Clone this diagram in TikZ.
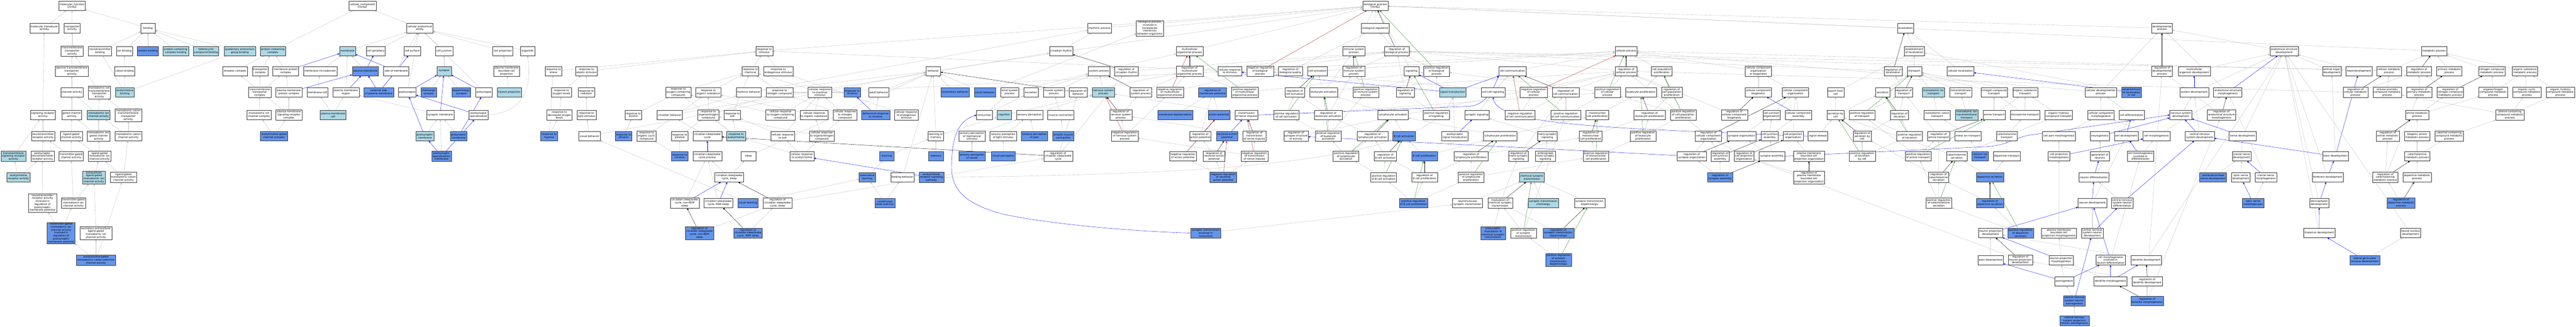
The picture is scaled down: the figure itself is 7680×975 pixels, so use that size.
\documentclass[tikz,border=0pt]{standalone}
\usepackage{fontspec}
\setmainfont{DejaVu Sans}
\usetikzlibrary{arrows.meta,shadows}
\definecolor{lbfill}{HTML}{ADD8E6}
\definecolor{dbfill}{HTML}{6495ED}
\definecolor{edgegray}{RGB}{190,190,190}
\definecolor{edgered}{HTML}{B22222}
\definecolor{edgegreen}{HTML}{228B22}
\pgfdeclarelayer{back}
\pgfdeclarelayer{bg}
\pgfsetlayers{back,bg,main}
\newcommand{\nd}[7]{\node[#6,minimum width=#4pt,minimum height=#5pt] (#1) at (#2,#3) {#7};}
\tikzset{
  box/.style={draw=black!80, line width=0.6pt, inner xsep=1pt, inner ysep=1pt, align=center,
    font={\fontsize{7.6}{8.8}\selectfont},
    drop shadow={shadow xshift=0.9pt,shadow yshift=-0.9pt,fill=black!55,opacity=0.6}},
  wn/.style={box, fill=white},
  lbn/.style={box, fill=lbfill},
  dbn/.style={box, fill=dbfill},
  tipA/.style={-{Triangle[length=5.5pt,width=4.6pt]}},
  ge/.style={draw=edgegray, line width=0.6pt, tipA},
  be/.style={draw=blue, line width=0.6pt, tipA},
  ke/.style={draw=black, line width=0.6pt, tipA},
  re/.style={draw=edgered, line width=0.6pt, tipA},
  gre/.style={draw=edgegreen, line width=0.6pt, tipA}
}
\begin{document}
\begin{tikzpicture}[x=1pt,y=-1pt]
\useasboundingbox (0,0) rectangle (7680,975);
\begin{pgfonlayer}{back}
\fill[white] (0,0) rectangle (7680,975);
\end{pgfonlayer}
% ---------------- molecular function ----------------
\nd{mf}{214.7}{17}{78}{28}{wn}{molecular\_function\\Chrnb2}
\nd{mta}{132}{84}{86}{28}{wn}{molecular transducer\\activity}
\nd{ta}{215}{84}{47}{28}{wn}{transporter\\activity}
\nd{binding}{441}{84}{43}{28}{wn}{binding}
\nd{tta}{215}{152}{66}{30}{wn}{transmembrane\\transporter\\activity}
\nd{ntb}{298}{152}{69}{28}{wn}{neurotransmitter\\binding}
\nd{ionb}{371}{152}{47}{28}{wn}{ion binding}
\nd{protb}{441}{152}{63}{28}{dbn}{protein binding}
\nd{pcb}{524}{152}{75.5}{28}{lbn}{protein-containing\\complex binding}
\nd{hcb}{614.5}{152}{75}{28}{lbn}{heterocyclic\\compound binding}
\nd{qab}{715}{152}{94}{28}{lbn}{quaternary ammonium\\group binding}
\nd{ptta}{214}{212}{98}{30}{wn}{passive transmembrane\\transporter\\activity}
\nd{cationb}{371.5}{212}{60}{28}{wn}{cation binding}
\nd{chact}{214}{275.5}{66}{28}{wn}{channel activity}
\nd{mitta}{296}{276}{67}{38.6}{wn}{monoatomic ion\\transmembrane\\transporter\\activity}
\nd{achb}{372}{275.5}{56}{28}{lbn}{acetylcholine\\binding}
\nd{sra}{128}{343}{74}{28}{wn}{signaling receptor\\activity}
\nd{gca}{214}{343}{59}{28}{wn}{gated channel\\activity}
\nd{mica}{294}{343}{68}{28}{lbn}{monoatomic ion\\channel activity}
\nd{mcta}{382.5}{343}{79}{38.6}{wn}{monoatomic cation\\transmembrane\\transporter\\activity}
\nd{ntra}{128}{406}{69}{28}{wn}{neurotransmitter\\receptor activity}
\nd{lgca}{212.6}{406}{66}{28}{wn}{ligand-gated\\channel activity}
\nd{migca}{294}{406}{68}{30}{wn}{monoatomic ion\\gated channel\\activity}
\nd{mcca}{382.5}{406}{79}{28}{wn}{monoatomic cation\\channel activity}
\nd{tsra}{40}{466}{73.5}{30}{lbn}{transmembrane\\signaling receptor\\activity}
\nd{pntra}{126.5}{466}{69}{30}{wn}{postsynaptic\\neurotransmitter\\receptor activity}
\nd{tgca}{212}{466}{72}{28}{wn}{transmitter-gated\\channel activity}
\nd{lgmica}{296.5}{466}{67}{30}{wn}{ligand-gated\\monoatomic ion\\channel activity}
\nd{achra}{55}{529}{68}{28}{lbn}{acetylcholine\\receptor activity}
\nd{elgmica}{280}{529}{67.5}{38.6}{lbn}{extracellular\\ligand-gated\\monoatomic ion\\channel activity}
\nd{lgmcca}{368}{529}{79}{30}{wn}{ligand-gated\\monoatomic cation\\channel activity}
\nd{ntrareg}{126.7}{605.4}{83.7}{55}{wn}{neurotransmitter\\receptor activity\\involved in\\regulation of\\postsynaptic\\membrane potential}
\nd{tgmica}{219}{605.4}{72}{30}{wn}{transmitter-gated\\monoatomic ion\\channel activity}
\nd{tgmicareg}{182}{695}{83}{63.4}{dbn}{transmitter-gated\\monoatomic ion\\channel activity\\involved in\\regulation of\\postsynaptic\\membrane potential}
\nd{eelgmica}{286}{695}{95.5}{38.6}{wn}{excitatory extracellular\\ligand-gated\\monoatomic ion\\channel activity}
\nd{achgated}{286}{776}{117.5}{30}{dbn}{acetylcholine-gated\\monoatomic cation-selective\\channel activity}
% ---------------- cellular component ----------------
\nd{cc}{1080.4}{17}{80.8}{28}{wn}{cellular\_component\\Chrnb2}
\nd{cae}{1251.6}{84}{79}{28}{wn}{cellular anatomical\\entity}
\nd{pcc}{813.5}{152}{75}{28}{lbn}{protein-containing\\complex}
\nd{membrane}{1036}{152}{47}{28}{lbn}{membrane}
\nd{cellper}{1120.4}{152}{56}{28}{wn}{cell periphery}
\nd{cellsurf}{1228.8}{152}{48.6}{28}{wn}{cell surface}
\nd{celljunc}{1324}{152}{51.4}{28}{wn}{cell junction}
\nd{cellproj}{1499}{152}{60}{28}{wn}{cell projection}
\nd{organelle}{1572.7}{152}{43.3}{28}{wn}{organelle}
\nd{recc}{700.8}{212}{72.6}{28}{wn}{receptor complex}
\nd{transc}{775.7}{212}{47}{28}{wn}{transporter\\complex}
\nd{mpc}{851.7}{212}{76.3}{28}{wn}{membrane protein\\complex}
\nd{mmd}{954.3}{212}{99.6}{28}{wn}{membrane microdomain}
\nd{pm}{1089.2}{212}{78}{28}{dbn}{plasma membrane}
\nd{som}{1180.9}{212}{76}{28}{wn}{side of membrane}
\nd{synapse}{1324}{212}{43.3}{28}{lbn}{synapse}
\nd{pmbcp}{1510.2}{212}{77.6}{30}{wn}{plasma membrane\\bounded cell\\projection}
\nd{tmtc}{774.5}{275.5}{66.5}{30}{wn}{transmembrane\\transporter\\complex}
\nd{pmpc}{861.2}{275.5}{77.6}{28}{wn}{plasma membrane\\protein complex}
\nd{mraft}{946.5}{275.5}{62}{28}{wn}{membrane raft}
\nd{pmr}{1031.2}{275.5}{78}{28}{wn}{plasma membrane\\region}
\nd{esopm}{1129.2}{275.5}{87.8}{28}{dbn}{external side\\of plasma membrane}
\nd{postsyn}{1213.9}{275.5}{53}{28}{wn}{postsynapse}
\nd{cholsyn}{1278}{275.5}{46}{28}{dbn}{cholinergic\\synapse}
\nd{dopsyn}{1375.3}{275.5}{56}{28}{dbn}{dopaminergic\\synapse}
\nd{presyn}{1442.9}{275.5}{49}{28}{wn}{presynapse}
\nd{neuproj}{1518.3}{275.5}{72.7}{28}{lbn}{neuron projection}
\nd{micc}{772.2}{343}{71}{28}{wn}{monoatomic ion\\channel complex}
\nd{pmsrc}{861.2}{343}{77.6}{30}{wn}{plasma membrane\\signaling receptor\\complex}
\nd{pmraft}{992.9}{343}{77}{28}{lbn}{plasma membrane\\raft}
\nd{synmem}{1312.5}{343}{82}{28}{wn}{synaptic membrane}
\nd{pssp}{1426.8}{343}{57.5}{28}{wn}{postsynaptic\\specialization}
\nd{achgcc}{817}{406}{81}{28}{dbn}{acetylcholine-gated\\channel complex}
\nd{psm}{1266.5}{406}{54}{28}{lbn}{postsynaptic\\membrane}
\nd{presynmem}{1367.3}{406}{49.8}{28}{dbn}{presynaptic\\membrane}
\nd{psspm}{1316.3}{466}{58}{30}{dbn}{postsynaptic\\specialization\\membrane}
% ---------------- biological process ----------------
\nd{rts}{1649.8}{212}{49.8}{28}{wn}{response to\\stress}
\nd{rtas}{1748.4}{212}{65.7}{28}{wn}{response to\\abiotic stimulus}
\nd{rtol}{1673.9}{275.5}{58.8}{28}{wn}{response to\\oxygen levels}
\nd{rtrad}{1748.3}{275.5}{49.4}{28}{wn}{response to\\radiation}
\nd{rtdol}{1667.6}{343}{75.5}{30}{wn}{response to\\decreased oxygen\\levels}
\nd{rtls}{1748.6}{343}{56.3}{28}{wn}{response to\\light stimulus}
\nd{rtalc}{1888}{343}{50}{28}{wn}{response to\\alcohol}
\nd{rthyp}{1637}{406}{49.4}{28}{dbn}{response to\\hypoxia}
\nd{visbeh}{1757.4}{406}{64}{28}{wn}{visual behavior}
\nd{rteth}{1859}{406}{49.8}{28}{dbn}{response to\\ethanol}
\nd{rtocc}{1927.4}{406}{56.3}{30}{wn}{response to\\organic cyclic\\compound}
\nd{rtstim}{2278.6}{152}{50.2}{28}{wn}{response to\\stimulus}
\nd{rtchem}{2237}{212}{49.4}{28}{wn}{response to\\chemical}
\nd{rtendo}{2320.2}{212}{87.8}{28}{wn}{response to\\endogenous stimulus}
\nd{rtocomp}{2021.8}{275.5}{75.5}{30}{wn}{response to\\oxygen-containing\\compound}
\nd{rtos}{2111.6}{275.5}{74.7}{28}{wn}{response to\\organic substance}
\nd{rhythbeh}{2231.8}{275.5}{74.3}{28}{wn}{rhythmic behavior}
\nd{rtnc}{2324}{275.5}{79.2}{28}{wn}{response to\\nitrogen compound}
\nd{crcs}{2444.5}{275.5}{70.2}{30}{wn}{cellular response\\to chemical\\stimulus}
\nd{rtnic}{2540.2}{275.5}{49.4}{28}{dbn}{response to\\nicotine}
\nd{circbeh}{1996.4}{343}{76}{28}{wn}{circadian behavior}
\nd{rtonc}{2111.8}{343}{62.9}{30}{wn}{response to\\organonitrogen\\compound}
\nd{rtsalt}{2183.3}{343}{49.8}{28}{wn}{response to\\salt}
\nd{crocc}{2326.8}{343}{87}{30}{wn}{cellular response\\to oxygen-containing\\compound}
\nd{cros}{2427}{343}{84}{28}{wn}{cellular response\\to organic substance}
\nd{crnc}{2519.3}{343}{70.6}{30}{wn}{cellular response\\to nitrogen\\compound}
\nd{rtalk}{2026.3}{406}{49.4}{28}{wn}{response to\\alkaloid}
\nd{csw}{2108.6}{406}{85.7}{28}{wn}{circadian sleep/wake\\cycle}
\nd{rtach}{2194.5}{406}{56}{28}{lbn}{response to\\acetylcholine}
\nd{crsalt}{2333.3}{406}{69.8}{28}{wn}{cellular response\\to salt}
\nd{cronc}{2450.2}{406}{73.5}{30}{wn}{cellular response\\to organonitrogen\\compound}
\nd{rtcoc}{2026}{466}{49}{28}{dbn}{response to\\cocaine}
\nd{cswp}{2108.6}{466}{85.7}{28}{wn}{circadian sleep/wake\\cycle process}
\nd{sleep}{2231.2}{466}{43.7}{28}{wn}{sleep}
\nd{crach}{2391}{466}{71}{28}{wn}{cellular response\\to acetylcholine}
\nd{cswsl}{2174}{529}{86}{28}{wn}{circadian sleep/wake\\cycle, sleep}
\nd{cswnrem}{2041.2}{605.4}{85.7}{30}{wn}{circadian sleep/wake\\cycle, non-REM\\sleep}
\nd{cswrem}{2141.6}{605.4}{85.7}{28}{wn}{circadian sleep/wake\\cycle, REM sleep}
\nd{vislearn}{2229.8}{605.4}{61.2}{28}{dbn}{visual learning}
\nd{rcswsl}{2318}{605.4}{85}{30}{wn}{regulation of\\circadian sleep/wake\\cycle, sleep}
\nd{rcswnrem}{2085.3}{695}{85.7}{38.6}{dbn}{regulation of\\circadian sleep/wake\\cycle, non-REM\\sleep}
\nd{rcswrem}{2229.8}{695}{85}{30}{dbn}{regulation of\\circadian sleep/wake\\cycle, REM sleep}
\nd{behavior}{2782.2}{212}{43.7}{28}{wn}{behavior}
\nd{circrhythm}{3163.3}{152}{69.4}{28}{wn}{circadian rhythm}
\nd{adultbeh}{2620.2}{275.5}{60}{28}{wn}{adult behavior}
\nd{locobeh}{2847.3}{275.5}{85}{28}{dbn}{locomotory behavior}
\nd{socbeh}{2936.3}{275.5}{62.9}{28}{dbn}{social behavior}
\nd{renal}{3010}{275.5}{55}{28}{wn}{renal system\\process}
\nd{excretion}{3073.4}{275.5}{43.3}{28}{wn}{excretion}
\nd{musproc}{3141.6}{275.5}{62.9}{28}{wn}{muscle system\\process}
\nd{regbeh}{3214.3}{275.5}{53}{28}{wn}{regulation of\\behavior}
\nd{brtnic}{2610.6}{343}{83.3}{28}{dbn}{behavioral response\\to nicotine}
\nd{cres}{2702}{343}{71}{30}{wn}{cellular response\\to endogenous\\stimulus}
\nd{micturition}{2934.9}{343}{47}{28}{wn}{micturition}
\nd{cognition}{2993.9}{343}{43.3}{28}{lbn}{cognition}
\nd{sensperc}{3069.4}{343}{78.4}{28}{wn}{sensory perception}
\nd{muscontr}{3162.4}{343}{79}{28}{wn}{muscle contraction}
\nd{lom}{2790.2}{406}{45.7}{28}{wn}{learning or\\memory}
\nd{spms}{2897.8}{406}{78.7}{30}{wn}{sensory perception\\of mechanical\\stimulus}
\nd{spls}{2990.8}{406}{78.8}{28}{wn}{sensory perception\\of light stimulus}
\nd{sppain}{3084}{406}{79}{28}{dbn}{sensory perception\\of pain}
\nd{smc}{3169.8}{406}{64.4}{28}{dbn}{smooth muscle\\contraction}
\nd{learning}{2643.7}{466}{43.3}{28}{dbn}{learning}
\nd{memory}{2790.4}{466}{43.7}{28}{dbn}{memory}
\nd{spsound}{2897.8}{466}{78.7}{28}{dbn}{sensory perception\\of sound}
\nd{visperc}{2991}{466}{71}{28}{dbn}{visual perception}
\nd{rcsw}{3154.5}{466}{86}{30}{wn}{regulation of\\circadian sleep/wake\\cycle}
\nd{assoclearn}{2585.5}{529}{48.6}{28}{dbn}{associative\\learning}
\nd{feedbeh}{2690.2}{529}{69.4}{28}{wn}{feeding behavior}
\nd{achrsp}{2776.8}{529}{73.5}{30}{dbn}{acetylcholine\\receptor signaling\\pathway}
\nd{cta}{2638.2}{605.4}{59.2}{28}{dbn}{conditioned\\taste aversion}
\nd{rhythproc}{3278}{84}{71}{28}{wn}{rhythmic process}
\nd{bpiiibo}{3428}{84.3}{81.2}{46.6}{wn}{biological process\\involved in\\intraspecies\\interaction\\between organisms}
\nd{mop}{3546.5}{152}{80}{28}{wn}{multicellular\\organismal process}
\nd{sysproc}{3276.3}{212}{64.5}{28}{wn}{system process}
\nd{rcr}{3358}{212}{69.4}{28}{wn}{regulation of\\circadian rhythm}
\nd{rmop}{3546.5}{212}{80}{30}{wn}{regulation of\\multicellular\\organismal process}
\nd{crtstim}{3666.5}{212}{70.2}{28}{wn}{cellular response\\to stimulus}
\nd{nrbp}{3756.7}{212}{80}{30}{wn}{negative regulation\\of biological\\process}
\nd{rbq}{3847}{212}{71.5}{28}{wn}{regulation of\\biological quality}
\nd{nsp}{3289.4}{275.5}{66}{28}{lbn}{nervous system\\process}
\nd{rsp}{3400.8}{275.5}{64.5}{28}{wn}{regulation of\\system process}
\nd{nrmop}{3488.2}{275.5}{80}{30}{wn}{negative regulation\\of multicellular\\organismal process}
\nd{rmp}{3614.9}{275.5}{82.8}{28}{dbn}{regulation of\\membrane potential}
\nd{prmop}{3711}{275.5}{80}{30}{wn}{positive regulation\\of multicellular\\organismal process}
\nd{rca}{3860.2}{275.5}{59.2}{28}{wn}{regulation of\\cell activation}
\nd{rnsp}{3341.5}{343}{65.7}{30}{wn}{regulation of\\nervous system\\process}
\nd{mdepol}{3503.5}{343}{104}{28}{dbn}{membrane depolarization}
\nd{actpot}{3634}{343}{64}{28}{dbn}{action potential}
\nd{tni}{3716}{343}{68.6}{28}{wn}{transmission\\of nerve impulse}
\nd{prca}{3834.7}{343}{76}{28}{wn}{positive regulation\\of cell activation}
\nd{nrnsp}{3353.3}{406}{79.6}{30}{wn}{negative regulation\\of nervous system\\process}
\nd{rap}{3578.5}{406}{64}{28}{wn}{regulation of\\action potential}
\nd{nap}{3658.2}{406}{63.3}{28}{dbn}{neuronal action\\potential}
\nd{rtni}{3739.8}{406}{69}{30}{wn}{regulation of\\transmission\\of nerve impulse}
\nd{rssa}{3863.7}{406}{72.7}{30}{wn}{regulation of\\synapse structure\\or activity}
\nd{nrap}{3526.7}{466}{79.6}{28}{wn}{negative regulation\\of action potential}
\nd{rnap}{3619.6}{466}{64.5}{30}{wn}{regulation of\\neuronal action\\potential}
\nd{nrtni}{3740}{466}{80}{30}{wn}{negative regulation\\of transmission\\of nerve impulse}
\nd{nrnap}{3647.1}{529}{80.4}{30}{dbn}{negative regulation\\of neuronal\\action potential}
\nd{stim}{3594.7}{695}{89.8}{30}{dbn}{synaptic transmission\\involved in\\micturition}
\nd{bp}{4100.2}{17}{75.5}{28}{wn}{biological\_process\\Chrnb2}
\nd{bioreg}{4100.4}{84}{83.3}{28}{wn}{biological regulation}
\nd{isp}{4035.9}{152}{67}{28}{wn}{immune system\\process}
\nd{rbp}{4164.2}{152}{73.9}{28}{wn}{regulation of\\biological process}
\nd{cellact}{3928}{212}{59.2}{28}{wn}{cell activation}
\nd{risp}{4036}{212}{67}{30}{wn}{regulation of\\immune system\\process}
\nd{signaling}{4208.3}{212}{43.7}{28}{wn}{signaling}
\nd{prbp}{4283}{212}{77.1}{30}{wn}{positive regulation\\of biological\\process}
\nd{cellcomm}{4509}{212}{82.4}{28}{wn}{cell communication}
\nd{leukact}{3946}{275.5}{83.3}{28}{wn}{leukocyte activation}
\nd{prisp}{4071.8}{275.5}{76.7}{30}{wn}{positive regulation\\of immune system\\process}
\nd{rsig}{4189.2}{275.5}{53.5}{28}{wn}{regulation of\\signaling}
\nd{sigtrans}{4331}{275.5}{78.4}{28}{lbn}{signal transduction}
\nd{ccsig}{4451.4}{275.5}{71.8}{28}{wn}{cell-cell signaling}
\nd{rleuka}{3959.8}{343}{83.7}{28}{wn}{regulation of\\leukocyte activation}
\nd{lymact}{4153.3}{343}{91}{28}{wn}{lymphocyte activation}
\nd{prsig}{4282}{343}{77.6}{28}{wn}{positive regulation\\of signaling}
\nd{synsig}{4403.3}{343}{73.5}{28}{wn}{synaptic signaling}
\nd{prleuka}{3960}{406}{76.7}{30}{wn}{positive regulation\\of leukocyte\\activation}
\nd{rlyma}{4092.2}{406}{91.4}{28}{wn}{regulation of\\lymphocyte activation}
\nd{bcellact}{4186}{406}{66.5}{28}{dbn}{B cell activation}
\nd{pst}{4337.6}{406}{78.4}{28}{wn}{postsynaptic\\signal transduction}
\nd{lymprolif}{4472.5}{406}{99}{28}{wn}{lymphocyte proliferation}
\nd{prlyma}{4012.7}{466}{76.7}{30}{wn}{positive regulation\\of lymphocyte\\activation}
\nd{rbca}{4130}{466}{66.5}{28}{wn}{regulation of\\B cell activation}
\nd{bcprolif}{4247}{466}{76}{28}{dbn}{B cell proliferation}
\nd{rlp}{4385.5}{466}{100}{28}{wn}{regulation of\\lymphocyte proliferation}
\nd{prbca}{4125}{529}{77}{28}{wn}{positive regulation\\of B cell activation}
\nd{rbcp}{4247}{529}{76}{28}{wn}{regulation of\\B cell proliferation}
\nd{prlp}{4385.7}{529}{76.7}{30}{wn}{positive regulation\\of lymphocyte\\proliferation}
\nd{prbcp}{4213.9}{605.4}{85}{28}{dbn}{positive regulation\\of B cell proliferation}
\nd{nmst}{4375}{605.4}{89.8}{28}{wn}{neuromuscular\\synaptic transmission}
\nd{mcst}{4472.5}{605.4}{74}{30}{wn}{modulation of\\chemical synaptic\\transmission}
\nd{pmcst}{4451.2}{695}{74}{38.6}{dbn}{presynaptic\\modulation of\\chemical synaptic\\transmission}
\nd{cellproc}{4847.7}{152}{64.5}{28}{wn}{cellular process}
\nd{rcp}{4847.7}{212}{64.5}{28}{wn}{regulation of\\cellular process}
\nd{cpp}{4954.3}{212}{61.2}{28}{wn}{cell population\\proliferation}
\nd{nrcp}{4572.4}{275.5}{80.4}{30}{wn}{negative regulation\\of cellular\\process}
\nd{rcc}{4667.8}{275.5}{80}{28}{wn}{regulation of\\cell communication}
\nd{prcp}{4792.2}{275.5}{76.7}{30}{wn}{positive regulation\\of cellular\\process}
\nd{leukprolif}{4892}{275.5}{92.7}{28}{wn}{leukocyte proliferation}
\nd{rcpp}{4984}{275.5}{61.2}{30}{wn}{regulation of\\cell population\\proliferation}
\nd{nrcc}{4531.8}{343}{89.8}{28}{wn}{negative regulation\\of cell communication}
\nd{prcc}{4667.8}{343}{89.8}{28}{wn}{positive regulation\\of cell communication}
\nd{mncp}{4762.2}{343}{68.2}{28}{wn}{mononuclear\\cell proliferation}
\nd{rleukp}{4918}{343}{93}{28}{wn}{regulation of\\leukocyte proliferation}
\nd{prcpp}{5017.8}{343}{77.1}{30}{wn}{positive regulation\\of cell population\\proliferation}
\nd{tss}{4613}{406}{58.8}{28}{wn}{trans-synaptic\\signaling}
\nd{rmncp}{4742.4}{406}{67.8}{30}{wn}{regulation of\\mononuclear\\cell proliferation}
\nd{prleukp}{4898.2}{406}{77.1}{30}{wn}{positive regulation\\of leukocyte\\proliferation}
\nd{rcco}{5093.3}{406}{78}{30}{wn}{regulation of\\cellular component\\organization}
\nd{rtss}{4527}{466}{58.8}{30}{wn}{regulation of\\trans-synaptic\\signaling}
\nd{atss}{4607.3}{466}{58.8}{30}{wn}{anterograde\\trans-synaptic\\signaling}
\nd{prmncp}{4758}{466}{76.7}{30}{wn}{positive regulation\\of mononuclear\\cell proliferation}
\nd{rso}{5043.7}{466}{87.3}{28}{wn}{regulation of\\synapse organization}
\nd{rcja}{5128.2}{466}{54}{30}{wn}{regulation of\\cell junction\\assembly}
\nd{cst}{4567}{529}{74.3}{28}{lbn}{chemical synaptic\\transmission}
\nd{rsa}{5128.3}{529}{76.3}{28}{dbn}{regulation of\\synapse assembly}
\nd{stchol}{4601.4}{605.4}{91.8}{28}{lbn}{synaptic transmission,\\cholinergic}
\nd{stdop}{4739.4}{605.4}{91.8}{28}{wn}{synaptic transmission,\\dopaminergic}
\nd{prst}{4542}{695}{76.7}{30}{wn}{positive regulation\\of synaptic\\transmission}
\nd{rstdop}{4646.3}{695}{91.8}{30}{dbn}{regulation of\\synaptic transmission,\\dopaminergic}
\nd{prstdop}{4646.5}{775.5}{77.5}{38.6}{dbn}{positive regulation\\of synaptic\\transmission,\\dopaminergic}
\nd{loc}{5681}{84}{48.6}{28}{wn}{localization}
\nd{eol}{5707.3}{152}{58.8}{28}{wn}{establishment\\of localization}
\nd{ccob}{5242}{212}{78.4}{30}{wn}{cellular component\\organization\\or biogenesis}
\nd{rloc}{5644.1}{212}{53}{28}{wn}{regulation of\\localization}
\nd{transport}{5707.6}{212}{43.7}{28}{wn}{transport}
\nd{ccbio}{5242}{275.5}{78.4}{28}{wn}{cellular component\\biogenesis}
\nd{cco}{5352.9}{275.5}{78}{28}{wn}{cellular component\\organization}
\nd{efc}{5472.4}{275.5}{49.4}{28}{wn}{export from\\cell}
\nd{secretion}{5612.9}{275.5}{42.9}{28}{wn}{secretion}
\nd{rtransport}{5675.7}{275.5}{51.8}{28}{wn}{regulation of\\transport}
\nd{mit}{5764.3}{275.5}{66.6}{28}{lbn}{monoatomic ion\\transport}
\nd{rccb}{5170.6}{343}{78.4}{30}{wn}{regulation of\\cellular component\\biogenesis}
\nd{cjo}{5281.6}{343}{51.4}{28}{wn}{cell junction\\organization}
\nd{cca}{5361.8}{343}{78.8}{28}{wn}{cellular component\\assembly}
\nd{sbc}{5472.5}{343}{51}{28}{wn}{secretion by\\cell}
\nd{prt}{5551.4}{343}{76.7}{28}{wn}{positive regulation\\of transport}
\nd{rsec}{5662.7}{343}{53.5}{28}{wn}{regulation of\\secretion}
\nd{mct}{5775.4}{343}{78.7}{28}{wn}{monoatomic cation\\transport}
\nd{synorg}{5192}{406}{87}{28}{wn}{synapse organization}
\nd{cja}{5276}{406}{51}{28}{wn}{cell junction\\assembly}
\nd{cpo}{5345.9}{406}{59.2}{28}{wn}{cell projection\\organization}
\nd{sigrel}{5419.6}{406}{58}{28}{wn}{signal release}
\nd{rsbc}{5551.8}{406}{53}{30}{wn}{regulation of\\secretion by\\cell}
\nd{prsec}{5693}{406}{76.7}{28}{wn}{positive regulation\\of secretion}
\nd{ramt}{5779.7}{406}{66.5}{28}{wn}{regulation of\\amine transport}
\nd{rcpo}{5199.8}{466}{59.2}{30}{wn}{regulation of\\cell projection\\organization}
\nd{synass}{5282.5}{466}{76}{28}{wn}{synapse assembly}
\nd{pmbcpo}{5393}{466}{93}{30}{wn}{plasma membrane\\bounded cell\\projection organization}
\nd{prsbc}{5551.8}{466}{77.6}{30}{wn}{positive regulation\\of secretion\\by cell}
\nd{pramt}{5718.6}{466}{76.3}{28}{wn}{positive regulation\\of amine transport}
\nd{rpmbcpo}{5393}{529}{93}{38.6}{wn}{regulation of\\plasma membrane\\bounded cell\\projection organization}
\nd{rcasec}{5779.6}{529}{60.4}{30}{wn}{regulation of\\catecholamine\\secretion}
\nd{prcasec}{5779.8}{605.4}{77.2}{30}{wn}{positive regulation\\of catecholamine\\secretion}
\nd{cellloc}{5844.7}{212}{80.4}{28}{wn}{cellular localization}
\nd{tmt}{5845.3}{275.5}{66.2}{28}{wn}{transmembrane\\transport}
\nd{nct}{5945.1}{275.5}{78.8}{28}{wn}{nitrogen compound\\transport}
\nd{ost}{6037.6}{275.5}{73.5}{28}{wn}{organic substance\\transport}
\nd{cdp}{6263}{275.5}{93.5}{28}{wn}{cellular developmental\\process}
\nd{eolic}{6354.9}{275.5}{59.2}{30}{dbn}{establishment\\of localization\\in cell}
\nd{mitmt}{5863.3}{343}{67.7}{30}{lbn}{monoatomic ion\\transmembrane\\transport}
\nd{amtr}{5945.1}{343}{66.6}{28}{wn}{amine transport}
\nd{monoamtr}{6037.3}{343}{88.6}{28}{wn}{monoamine transport}
\nd{ohct}{6137.6}{343}{81.7}{28}{wn}{organic hydroxy\\compound transport}
\nd{ccmorph}{6263.7}{343}{78.4}{28}{wn}{cellular component\\morphogenesis}
\nd{celldiff}{6354.9}{343}{75.5}{28}{wn}{cell differentiation}
\nd{mettr}{5867.2}{406}{78}{28}{wn}{metal ion transport}
\nd{catr}{5982.6}{406}{60.8}{28}{wn}{catecholamine\\transport}
\nd{cpm}{6138.4}{406}{98}{28}{wn}{cell part morphogenesis}
\nd{neurogenesis}{6260.4}{406}{56.3}{28}{wn}{neurogenesis}
\nd{celldev}{6338.8}{406}{71}{28}{wn}{cell development}
\nd{cellmorph}{6429.2}{406}{80.4}{28}{wn}{cell morphogenesis}
\nd{casec}{5833.5}{466}{61.2}{28}{wn}{catecholamine\\secretion}
\nd{catrans}{5903.3}{466}{48.2}{28}{dbn}{calcium ion\\transport}
\nd{doptr}{5982.8}{466}{80.8}{28}{wn}{dopamine transport}
\nd{cpmorph}{6138.2}{466}{64}{28}{wn}{cell projection\\morphogenesis}
\nd{gon}{6260.4}{466}{56.3}{28}{wn}{generation of\\neurons}
\nd{cmind}{6381.4}{466}{79.6}{30}{wn}{cell morphogenesis\\involved in\\differentiation}
\nd{dopsec}{5932.6}{529}{80.8}{28}{dbn}{dopamine secretion}
\nd{neudiff}{6242.4}{529}{88.2}{28}{wn}{neuron differentiation}
\nd{rdopsec}{5932.6}{605.4}{80.8}{28}{dbn}{regulation of\\dopamine secretion}
\nd{neudev}{6237.8}{605.4}{85.3}{28}{wn}{neuron development}
\nd{cnsnd}{6326.7}{605.4}{64}{30}{wn}{central nervous\\system neuron\\differentiation}
\nd{npd}{5934.3}{695}{71.8}{28}{wn}{neuron projection\\development}
\nd{prdopsec}{6023.7}{695}{76.7}{30}{dbn}{positive regulation\\of dopamine\\secretion}
\nd{pmbcpm}{6138}{695}{104.5}{30}{wn}{plasma membrane\\bounded cell\\projection morphogenesis}
\nd{cnsndev}{6237.8}{695}{64}{30}{wn}{central nervous\\system neuron\\development}
\nd{axdev}{5934.5}{775.5}{75.5}{28}{wn}{axon development}
\nd{rnpd}{6023.2}{775.5}{71.8}{30}{wn}{regulation of\\neuron projection\\development}
\nd{npm}{6144.5}{775.5}{71.8}{28}{wn}{neuron projection\\morphogenesis}
\nd{cmind2}{6292.2}{775.5}{87.3}{30}{wn}{cell morphogenesis\\involved in\\neuron differentiation}
\nd{dendev}{6398.5}{775.5}{91}{28}{wn}{dendrite development}
\nd{axonogenesis}{6154}{839}{57.6}{28}{wn}{axonogenesis}
\nd{dendmorph}{6291.8}{839}{98}{28}{wn}{dendrite morphogenesis}
\nd{rdd}{6401.4}{839}{90.2}{28}{wn}{regulation of\\dendrite development}
\nd{cnsna}{6184.3}{897}{63.3}{30}{dbn}{central nervous\\system neuron\\axonogenesis}
\nd{rdm}{6401.4}{897}{97.5}{28}{dbn}{regulation of\\dendrite morphogenesis}
\nd{cnspna}{6184.7}{956.5}{87}{30}{dbn}{central nervous\\system projection\\neuron axonogenesis}
\nd{devproc}{6445.5}{84}{62.4}{28}{wn}{developmental\\process}
\nd{asd}{6809.8}{152}{85}{28}{wn}{anatomical structure\\development}
\nd{rdp}{6445.5}{212}{62.4}{30}{wn}{regulation of\\developmental\\process}
\nd{mod}{6541.6}{212}{94.7}{28}{wn}{multicellular\\organism development}
\nd{aod}{6951.8}{212}{54.7}{28}{wn}{animal organ\\development}
\nd{headdev}{7033}{212}{77.5}{28}{wn}{head development}
\nd{sysdev}{6541.6}{275.5}{86.5}{28}{wn}{system development}
\nd{asm}{6641.8}{275.5}{84.5}{28}{wn}{anatomical structure\\morphogenesis}
\nd{rcmp}{7022.5}{275.5}{73.5}{30}{wn}{regulation of\\cellular metabolic\\process}
\nd{nsd}{6501.6}{343}{66}{28}{wn}{nervous system\\development}
\nd{rasm}{6622.9}{343}{85}{30}{wn}{regulation of\\anatomical structure\\morphogenesis}
\nd{cnsd}{6558}{406}{86.5}{28}{wn}{central nervous\\system development}
\nd{nervedev}{6685.7}{406}{80.8}{28}{wn}{nerve development}
\nd{cnd}{6682.9}{466}{54.7}{28}{wn}{cranial nerve\\development}
\nd{braindev}{6962.6}{466}{77.2}{28}{wn}{brain development}
\nd{vcnd}{6598}{529}{80}{28}{dbn}{vestibulocochlear\\nerve development}
\nd{ond}{6680.6}{529}{55.2}{28}{wn}{optic nerve\\development}
\nd{cnm}{6755}{529}{64.4}{28}{wn}{cranial nerve\\morphogenesis}
\nd{fbd}{6939.6}{529}{93}{28}{wn}{forebrain development}
\nd{onm}{6717.3}{605.4}{64.1}{28}{dbn}{optic nerve\\morphogenesis}
\nd{dienc}{6914.4}{605.4}{55.9}{28}{wn}{diencephalon\\development}
\nd{thaldev}{6914.7}{695}{94.7}{28}{wn}{thalamus development}
\nd{lgnd}{7050.2}{775.5}{88.2}{28}{dbn}{lateral geniculate\\nucleus development}
\nd{metproc}{7256.5}{152}{75.5}{28}{wn}{metabolic process}
\nd{cmp}{7122.2}{212}{73.9}{28}{wn}{cellular metabolic\\process}
\nd{rmetp}{7211.8}{212}{75.1}{28}{wn}{regulation of\\metabolic process}
\nd{pmp}{7302.2}{212}{75.5}{28}{wn}{primary metabolic\\process}
\nd{ncmp}{7429}{212}{77.6}{28}{wn}{nitrogen compound\\metabolic process}
\nd{osmp}{7527.6}{212}{75.5}{28}{wn}{organic substance\\metabolic process}
\nd{cacmp}{7117}{275.5}{85.3}{30}{wn}{cellular aromatic\\compound metabolic\\process}
\nd{rpmp}{7212.4}{275.5}{75.5}{30}{wn}{regulation of\\primary metabolic\\process}
\nd{rncmp}{7304.7}{275.5}{78.8}{30}{wn}{regulation of\\nitrogen compound\\metabolic process}
\nd{oncmp}{7432.9}{275.5}{85.3}{30}{wn}{organonitrogen\\compound metabolic\\process}
\nd{occmp}{7533.3}{275.5}{85.3}{30}{wn}{organic cyclic\\compound metabolic\\process}
\nd{ohcmp}{7633.3}{275.5}{85.3}{30}{wn}{organic hydroxy\\compound metabolic\\process}
\nd{ammp}{7205.9}{343}{69}{28}{wn}{amine metabolic\\process}
\nd{pccmp}{7482.9}{343}{85.7}{30}{wn}{phenol-containing\\compound metabolic\\process}
\nd{rammp}{7118.6}{406}{69.8}{30}{wn}{regulation of\\amine metabolic\\process}
\nd{bammp}{7206.2}{406}{75.1}{28}{wn}{biogenic amine\\metabolic process}
\nd{ccmp}{7301.6}{406}{85.7}{30}{wn}{catechol-containing\\compound metabolic\\process}
\nd{camp}{7206.2}{466}{75.1}{28}{wn}{catecholamine\\metabolic process}
\nd{rcamp}{7111.4}{529}{75.9}{30}{wn}{regulation of\\catecholamine\\metabolic process}
\nd{dmp}{7206}{529}{83.7}{28}{wn}{dopamine metabolic\\process}
\nd{rdmp}{7158.4}{605.4}{83.3}{30}{dbn}{regulation of\\dopamine metabolic\\process}
\nd{nnd}{7186.7}{695}{60.8}{28}{wn}{neural nucleus\\development}
% ---------------- edges ----------------
\begin{pgfonlayer}{bg}
\foreach \a/\b in {mta/mf,ta/mf,binding/mf,tta/ta,ntb/binding,ionb/binding,protb/binding,pcb/binding,hcb/binding,qab/binding,
 ptta/tta,mitta/tta,cationb/ionb,chact/ptta,achb/cationb,achb/ntb,achb/qab,sra/mta,gca/chact,mica/chact,mica/mitta,mcta/mitta,
 ntra/sra,lgca/gca,migca/gca,migca/mica,mcca/mica,mcca/mcta,tsra/sra,pntra/ntra,tgca/ntra,tgca/lgca,lgmica/lgca,lgmica/migca,
 achra/tsra,achra/pntra,elgmica/lgmica,lgmcca/lgmica,lgmcca/mcca,ntrareg/pntra,tgmica/tgca,tgmica/elgmica,tgmicareg/ntrareg,
 tgmicareg/tgmica,eelgmica/elgmica,achgated/tgmicareg,achgated/eelgmica,achgated/lgmcca,
 cae/cc,pcc/cc,membrane/cae,cellper/cae,cellsurf/cae,som/cae,postsyn/cae,celljunc/cae,presyn/cae,cellproj/cae,organelle/cae,
 recc/pcc,transc/pcc,mpc/pcc,mmd/membrane,pm/membrane,tmtc/transc,tmtc/mpc,pmpc/mpc,mraft/mmd,pmr/membrane,esopm/som,
 cholsyn/synapse,dopsyn/synapse,micc/tmtc,pmsrc/pmpc,pmsrc/recc,pmraft/mraft,pmraft/pmr,synmem/pmr,achgcc/micc,achgcc/pmsrc,
 psm/synmem,synapse/celljunc,pmbcp/cellproj,neuproj/pmbcp,presynmem/synmem,psspm/synmem}
 \draw[ge] (\a) -- (\b);
\foreach \a/\b in {rts/rtstim,rtas/rtstim,rtol/rtas,rtrad/rtas,rtdol/rtol,rtls/rtrad,rthyp/rtdol,rthyp/rts,visbeh/rtls,visbeh/behavior,
 rteth/rtalc,rtalc/rtocomp,rtocc/rtos,rtstim/bp,rtchem/rtstim,rtendo/rtstim,crtstim/rtstim,rtocomp/rtchem,rtos/rtchem,rtnc/rtchem,
 crcs/rtchem,crcs/crtstim,rhythbeh/behavior,rhythbeh/rhythproc,rtnic/rtnc,circbeh/rhythbeh,circbeh/circrhythm,rtonc/rtos,rtonc/rtnc,
 rtsalt/rtchem,crocc/rtocomp,crocc/crcs,cros/rtos,cros/crcs,crnc/rtnc,crnc/crcs,rtalk/rtonc,csw/circbeh,rtach/rtonc,rtach/rtsalt,
 rtach/rtocomp,crsalt/rtsalt,crsalt/crcs,cronc/rtonc,cronc/cros,cronc/crnc,rtcoc/rtalk,rtcoc/rtocc,sleep/behavior,crach/rtach,
 crach/crsalt,crach/cronc,cswsl/cswp,cswsl/sleep,cswnrem/cswp,cswrem/cswp,vislearn/visbeh,vislearn/assoclearn,rcswsl/rcsw,
 rcswnrem/rcswsl,rcswrem/rcswsl,
 adultbeh/behavior,locobeh/behavior,socbeh/behavior,socbeh/bpiiibo,renal/sysproc,excretion/sysproc,musproc/sysproc,regbeh/rmop,
 brtnic/adultbeh,cres/rtendo,micturition/renal,micturition/excretion,cognition/nsp,sensperc/nsp,muscontr/musproc,lom/behavior,
 lom/cognition,spms/sensperc,spls/sensperc,sppain/sensperc,smc/muscontr,learning/lom,memory/lom,spsound/spms,visperc/spls,
 rcsw/rcr,rcsw/regbeh,assoclearn/learning,feedbeh/behavior,cta/assoclearn,cta/feedbeh,behavior/bp,circrhythm/rhythproc}
 \draw[ge] (\a) -- (\b);
\foreach \a/\b in {rhythproc/bp,bpiiibo/bp,mop/bp,sysproc/mop,rcr/rbp,rmop/rbp,crtstim/cellproc,nrbp/rbp,rbq/bioreg,nsp/sysproc,
 rsp/rmop,nrmop/rmop,nrmop/nrbp,rmp/rbq,prmop/rmop,prmop/prbp,rca/rcp,rnsp/rsp,mdepol/rmp,actpot/rmp,tni/nsp,prca/rca,prca/prcp,
 nrnsp/rnsp,nrnsp/nrmop,rap/rmp,rssa/rcp,nrap/rap,rnap/rap,nrtni/rtni,nrtni/nrnsp,rtni/rnsp,nrnap/nrap,nrnap/rnap,nrnap/nrtni,stim/nmst,
 bioreg/bp,isp/bp,rbp/bioreg,cellact/cellproc,risp/rbp,signaling/bp,prbp/rbp,cellcomm/cellproc,leukact/cellact,leukact/isp,
 prisp/risp,prisp/prbp,rsig/rbp,ccsig/cellcomm,rleuka/rca,rleuka/risp,lymact/leukact,prsig/rsig,prsig/prbp,synsig/ccsig,
 prleuka/rleuka,prleuka/prca,prleuka/prisp,rlyma/rleuka,bcellact/lymact,pst/sigtrans,lymprolif/mncp,lymprolif/lymact,
 prlyma/rlyma,prlyma/prleuka,rbca/rlyma,bcprolif/bcellact,bcprolif/lymprolif,rlp/rmncp,prbca/rbca,prbca/prlyma,rbcp/rbca,rbcp/rlp,
 prlp/rlp,prlp/prmncp,prbcp/rbcp,prbcp/prbca,prbcp/prlp,nmst/cst,mcst/rtss,pmcst/mcst}
 \draw[ge] (\a) -- (\b);
\foreach \a/\b in {rcp/rbp,cpp/cellproc,nrcp/rcp,nrcp/nrbp,rcc/rcp,prcp/rcp,prcp/prbp,leukprolif/cpp,rcpp/rcp,nrcc/rcc,nrcc/nrcp,
 prcc/rcc,prcc/prcp,mncp/leukprolif,rleukp/rcpp,prcpp/rcpp,prcpp/prcp,tss/synsig,rmncp/rleukp,prleukp/rleukp,prleukp/prcpp,
 rcco/rcp,rtss/rcc,atss/tss,prmncp/rmncp,prmncp/prleukp,rso/rcco,rcja/rcco,cst/atss,rsa/rso,rsa/rcja,stchol/cst,stdop/cst,
 prst/prcc,prst/mcst,rstdop/mcst,prstdop/rstdop,prstdop/prst,
 loc/bp,eol/loc,transport/eol,ccob/cellproc,rloc/rbp,ccbio/ccob,cco/ccob,efc/eol,secretion/transport,rtransport/rloc,mit/transport,
 rccb/rcp,cjo/cco,cca/cco,sbc/efc,sbc/secretion,prt/rtransport,rsec/rtransport,mct/mit,synorg/cjo,cja/cjo,cja/cca,cpo/cco,
 sigrel/sbc,rsbc/rsec,prsec/rsec,prsec/prt,ramt/rtransport,rcpo/rcco,synass/synorg,synass/cja,pmbcpo/cpo,prsbc/rsbc,prsbc/prsec,
 pramt/ramt,pramt/prt,rpmbcpo/rcpo,rcasec/ramt,rcasec/rsbc,prcasec/rcasec,prcasec/pramt}
 \draw[ge] (\a) -- (\b);
\foreach \a/\b in {cellloc/loc,eolic/eol,tmt/transport,nct/transport,ost/transport,cdp/cellproc,cdp/devproc,mitmt/mit,mitmt/tmt,
 amtr/nct,amtr/ost,monoamtr/ost,monoamtr/nct,ohct/ost,ccmorph/cdp,celldiff/cdp,mettr/mct,catr/monoamtr,catr/ohct,cpm/ccmorph,
 cellmorph/ccmorph,casec/catr,casec/sbc,catrans/mettr,doptr/catr,cpmorph/cpm,gon/neurogenesis,cmind/cellmorph,dopsec/casec,
 dopsec/doptr,neudiff/celldiff,rdopsec/rcasec,neudev/celldev,cnsnd/neudiff,prdopsec/rdopsec,prdopsec/prcasec,pmbcpm/cpmorph,
 cnsndev/neudev,axdev/npd,rnpd/rcpo,npm/pmbcpm,cmind2/cmind,dendev/npd,axonogenesis/npm,dendmorph/npm,rdd/rnpd,
 cnsna/axonogenesis,rdm/rdd,cnspna/cnsna,
 devproc/bp,asd/devproc,rdp/rbp,mod/asd,aod/asd,headdev/asd,sysdev/asd,asm/devproc,rcmp/rmetp,rcmp/rcp,nsd/sysdev,rasm/rdp,
 cellmorph/asm,cnsd/sysdev,nervedev/asd,cnd/nervedev,braindev/aod,vcnd/cnd,ond/cnd,cnm/asm,fbd/asd,onm/cnm,dienc/asd,
 thaldev/asd,lgnd/nnd,nnd/asd,dendev/asd,rdm/rasm,rdd/rdp,
 metproc/bp,cmp/metproc,cmp/cellproc,rmetp/rbp,pmp/metproc,ncmp/metproc,osmp/metproc,cacmp/cmp,rpmp/rmetp,rncmp/rmetp,oncmp/ncmp,
 oncmp/osmp,occmp/osmp,ohcmp/osmp,ammp/oncmp,pccmp/occmp,pccmp/ohcmp,pccmp/cacmp,rammp/rncmp,bammp/ammp,ccmp/pccmp,camp/bammp,
 camp/ccmp,rcamp/rammp,rcamp/rpmp,dmp/camp,rdmp/rcamp}
 \draw[ge] (\a) -- (\b);
% curved gray
\draw[ge] (pssp.east) .. controls (1540,335) and (1590,290) .. (organelle.south);
\draw[ge] (achrsp.east) .. controls (3500,520) and (4250,500) .. (sigtrans.south);
% blue
\foreach \a/\b in {mpc/membrane,pm/cellper,som/membrane,pmpc/pm,pmr/pm,esopm/pm,esopm/cellsurf,postsyn/synapse,presyn/synapse,
 synmem/synapse,psm/postsyn,pssp/postsyn,presynmem/presyn,psspm/pssp,psspm/psm,
 cswp/csw,cswnrem/cswsl,cswrem/cswsl,achrsp/crach,brtnic/rtnic,nap/tni,sigtrans/signaling,sigtrans/cellcomm,sigtrans/crtstim,
 pst/synsig,rso/rssa,neurogenesis/nsd,cca/ccbio,eolic/cellloc,cpmorph/cellmorph,celldev/celldiff,cmind/celldev,neudiff/gon,
 neudev/neudiff,cnsndev/cnsnd,cnsnd/cnsd,npd/neudev,npm/npd,cmind2/neudev,axonogenesis/axdev,axonogenesis/cmind2,
 dendmorph/cmind2,dendmorph/dendev,cnsna/cnsndev,sysdev/mod,asm/asd,cnsd/nsd,nervedev/nsd,braindev/cnsd,braindev/headdev,
 fbd/braindev,dienc/fbd,thaldev/dienc,lgnd/thaldev,onm/ond,cnm/cnd}
 \draw[be] (\a) -- (\b);
\draw[be] (stim.west) .. controls (3350,690) and (3050,660) .. (2960,630) .. controls (2870,600) and (2837,560) .. (2837,500) .. controls (2837,400) and (2860,360) .. (micturition.west);
\draw[be] (sigrel.west) .. controls (4800,382) and (4465,375) .. (ccsig.south);
\draw[be] (tni.east) -- (4380,317) .. controls (4430,315) and (4455,260) .. (cellcomm.south west);
\draw[be] (synass.east) -- (5911,438) .. controls (5990,436) and (6010,405) .. (6066,401) -- (nsd.west);
% black
\foreach \a/\b in {rcswnrem/cswnrem,rcswrem/cswrem,rcswsl/cswsl,rcsw/csw,regbeh/behavior,rcr/circrhythm,rmop/mop,rsp/sysproc,
 rnsp/nsp,rap/actpot,rnap/nap,rtni/tni,rbp/bp,risp/isp,rca/cellact,rleuka/leukact,rsig/signaling,rlyma/lymact,rbca/bcellact,
 rbcp/bcprolif,rlp/lymprolif,rcp/cellproc,rcc/cellcomm,rcpp/cpp,rleukp/leukprolif,rmncp/mncp,rtss/tss,mcst/cst,rstdop/stdop,
 rso/synorg,rccb/ccbio,rcco/cco,rcja/cja,rcpo/cpo,rsa/synass,rpmbcpo/pmbcpo,rsbc/sbc,rsec/secretion,rtransport/transport,
 rloc/loc,ramt/amtr,rcasec/casec,rdopsec/dopsec,rnpd/npd,rdd/dendev,rdm/dendmorph,rdp/devproc,rasm/asm,rmetp/metproc,
 rcmp/cmp,rpmp/pmp,rncmp/ncmp,rammp/ammp,rcamp/camp,rdmp/dmp}
 \draw[ke] (\a) -- (\b);
% red
\foreach \a/\b in {nrmop/mop,nrnsp/nsp,nrap/actpot,nrnap/nap,nrtni/tni,nrbp/bp,nrcp/cellproc,nrcc/cellcomm}
 \draw[re] (\a) -- (\b);
% green
\foreach \a/\b in {prmop/mop,prbp/bp,prisp/isp,prca/cellact,prleuka/leukact,prsig/signaling,prlyma/lymact,prbca/bcellact,
 prbcp/bcprolif,prlp/lymprolif,prcp/cellproc,prcc/cellcomm,prcpp/cpp,prleukp/leukprolif,prmncp/mncp,prst/cst,prstdop/stdop,
 prt/transport,prsec/secretion,prsbc/sbc,pramt/amtr,prcasec/casec,prdopsec/dopsec}
 \draw[gre] (\a) -- (\b);
\end{pgfonlayer}
\end{tikzpicture}
\end{document}
